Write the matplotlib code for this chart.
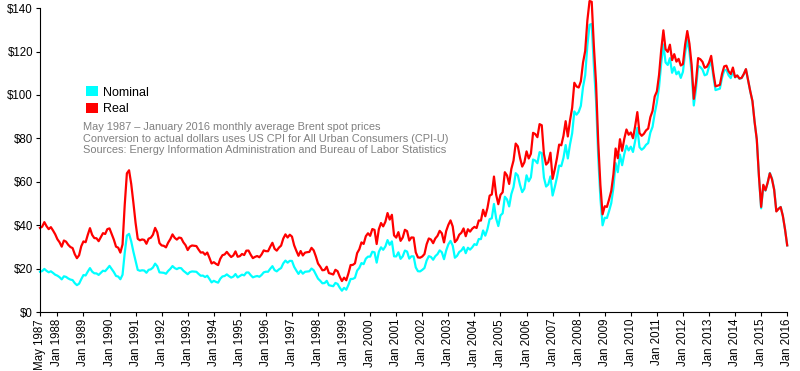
import numpy as np
import matplotlib
matplotlib.use("Agg")
from matplotlib import pyplot as plt
from matplotlib.patches import Patch

plt.rcParams['font.family'] = ['Liberation Sans', 'DejaVu Sans']

# Brent monthly average, nominal dollars (May 1987 - Jan 2016)
nominal = [
    18.58, 18.86, 19.86, 18.98, 18.31, 18.76, 18.01, 17.18,  # 1987
    16.75, 16.05, 15.03, 16.45, 16.18, 15.45, 14.95, 14.71, 13.31, 12.38, 13.06, 15.13,  # 1988
    17.03, 16.84, 18.63, 20.23, 18.62, 17.84, 17.79, 17.09, 18.06, 19.02, 18.82, 19.99,  # 1989
    21.25, 19.81, 18.39, 16.61, 16.35, 15.10, 17.17, 27.17, 35.24, 36.02, 32.54, 27.75,  # 1990
    23.63, 19.40, 19.00, 19.23, 19.10, 18.08, 19.43, 19.67, 20.48, 22.29, 21.08, 18.27,  # 1991
    18.16, 18.06, 17.63, 18.93, 19.89, 21.17, 20.24, 19.76, 20.31, 20.18, 19.02, 18.24,  # 1992
    17.42, 18.38, 18.70, 18.61, 18.54, 17.56, 16.71, 16.79, 16.11, 16.72, 15.24, 13.64,  # 1993
    14.37, 13.89, 13.52, 15.34, 16.39, 16.59, 17.34, 16.54, 15.86, 16.30, 17.48, 15.94,  # 1994
    16.56, 17.21, 16.89, 18.19, 18.22, 16.99, 15.98, 16.35, 16.60, 16.23, 17.06, 18.27,  # 1995
    18.57, 18.55, 19.94, 21.12, 19.30, 18.73, 19.64, 20.26, 22.41, 23.69, 22.73, 23.58,  # 1996
    23.54, 20.84, 19.13, 17.56, 19.04, 17.65, 18.53, 18.67, 18.76, 20.03, 19.25, 17.35,  # 1997
    15.37, 14.40, 13.24, 13.33, 14.36, 12.34, 12.14, 11.89, 13.39, 12.93, 11.19, 9.82,  # 1998
    11.13, 10.28, 12.53, 15.21, 15.26, 15.77, 19.08, 20.32, 22.55, 22.06, 24.56, 25.52,  # 1999
    25.51, 27.78, 27.49, 22.76, 27.74, 29.80, 28.68, 30.20, 33.14, 30.96, 32.55, 25.66,  # 2000
    25.62, 27.50, 24.50, 25.66, 28.31, 27.85, 24.61, 25.68, 25.62, 20.54, 18.80, 18.71,  # 2001
    19.42, 20.28, 23.70, 25.73, 25.35, 24.08, 25.74, 26.65, 28.40, 27.54, 24.34, 28.33,  # 2002
    31.18, 32.77, 30.61, 25.00, 25.86, 27.65, 28.35, 29.89, 27.11, 29.61, 28.75, 29.81,  # 2003
    31.28, 30.86, 33.63, 33.59, 37.57, 35.18, 38.22, 42.74, 43.20, 49.78, 43.11, 39.60,  # 2004
    44.51, 45.48, 53.10, 51.88, 48.65, 54.35, 57.52, 63.98, 62.91, 58.54, 55.24, 56.86,  # 2005
    62.99, 60.21, 62.06, 70.26, 69.78, 68.56, 73.67, 73.23, 61.96, 57.81, 58.76, 62.47,  # 2006
    53.68, 57.56, 62.05, 67.49, 67.21, 71.05, 76.93, 70.76, 77.17, 82.34, 92.41, 90.93,  # 2007
    92.18, 94.99, 103.64, 109.07, 122.80, 132.32, 132.72, 113.24, 97.23, 71.58, 52.45, 39.95,  # 2008
    43.44, 43.32, 46.54, 50.18, 57.30, 68.61, 64.44, 72.51, 67.65, 72.77, 76.66, 74.46,  # 2009
    76.17, 73.75, 78.83, 84.82, 75.95, 74.76, 75.58, 77.04, 77.84, 82.67, 85.28, 91.45,  # 2010
    96.52, 103.72, 114.64, 123.26, 114.99, 113.83, 116.97, 110.22, 112.83, 109.55, 110.77, 107.87,  # 2011
    110.69, 119.33, 125.45, 119.75, 110.34, 95.16, 102.62, 113.36, 112.86, 111.71, 109.06, 109.49,  # 2012
    112.96, 116.05, 108.47, 102.25, 102.56, 102.92, 107.93, 111.28, 111.60, 109.08, 107.79, 110.76,  # 2013
    108.12, 108.90, 107.48, 107.76, 109.54, 111.80, 106.77, 101.61, 97.09, 87.43, 79.44, 62.34,  # 2014
    47.76, 58.10, 55.89, 59.52, 64.08, 61.48, 56.56, 46.52, 47.62, 48.43, 44.27, 38.01,  # 2015
    30.70,  # 2016
]

# Same prices in January 2016 dollars (CPI-U)
real = [
    38.74, 39.32, 41.41, 39.57, 38.18, 39.11, 37.55, 35.82,  # 1987
    33.55, 32.15, 30.11, 32.95, 32.41, 30.95, 29.94, 29.46, 26.66, 24.80, 26.16, 30.31,  # 1988
    32.53, 32.16, 35.58, 38.64, 35.56, 34.07, 33.98, 32.64, 34.49, 36.33, 35.95, 38.18,  # 1989
    38.53, 35.92, 33.34, 30.11, 29.64, 27.38, 31.13, 49.26, 63.89, 65.30, 58.99, 50.31,  # 1990
    41.09, 33.74, 33.04, 33.44, 33.21, 31.44, 33.79, 34.21, 35.61, 38.76, 36.66, 31.77,  # 1991
    30.67, 30.50, 29.78, 31.97, 33.59, 35.76, 34.19, 33.37, 34.30, 34.08, 32.12, 30.81,  # 1992
    28.55, 30.12, 30.65, 30.50, 30.39, 28.78, 27.39, 27.52, 26.40, 27.40, 24.98, 22.36,  # 1993
    22.96, 22.20, 21.60, 24.51, 26.19, 26.51, 27.71, 26.43, 25.34, 26.05, 27.93, 25.47,  # 1994
    25.73, 26.74, 26.25, 28.27, 28.31, 26.40, 24.83, 25.41, 25.80, 25.22, 26.51, 28.39,  # 1995
    28.04, 28.01, 30.11, 31.89, 29.14, 28.28, 29.66, 30.59, 33.84, 35.77, 34.32, 35.61,  # 1996
    34.75, 30.76, 28.24, 25.92, 28.10, 26.05, 27.35, 27.56, 27.69, 29.56, 28.41, 25.61,  # 1997
    22.33, 20.92, 19.24, 19.37, 20.87, 17.93, 17.64, 17.28, 19.46, 18.79, 16.26, 14.27,  # 1998
    15.83, 14.62, 17.82, 21.63, 21.70, 22.43, 27.13, 28.90, 32.07, 31.37, 34.92, 36.29,  # 1999
    35.10, 38.23, 37.83, 31.32, 38.17, 41.00, 39.46, 41.56, 45.60, 42.60, 44.79, 35.31,  # 2000
    34.28, 36.80, 32.78, 34.33, 37.88, 37.26, 32.93, 34.36, 34.28, 27.48, 25.15, 25.03,  # 2001
    25.58, 26.71, 31.21, 33.89, 33.39, 31.71, 33.90, 35.10, 37.40, 36.27, 32.06, 37.31,  # 2002
    40.16, 42.21, 39.43, 32.20, 33.31, 35.61, 36.51, 38.50, 34.92, 38.14, 37.03, 38.40,  # 2003
    39.23, 38.70, 42.17, 42.12, 47.11, 44.12, 47.93, 53.60, 54.17, 62.42, 54.06, 49.66,  # 2004
    53.99, 55.17, 64.41, 62.93, 59.01, 65.93, 69.77, 77.61, 76.31, 71.01, 67.01, 68.97,  # 2005
    74.01, 70.75, 72.92, 82.56, 81.99, 80.56, 86.56, 86.05, 72.80, 67.93, 69.04, 73.40,  # 2006
    61.36, 65.79, 70.92, 77.14, 76.82, 81.21, 87.93, 80.88, 88.20, 94.11, 105.62, 103.93,  # 2007
    103.43, 106.29, 114.94, 120.30, 134.34, 143.30, 142.94, 122.41, 105.30, 78.31, 58.48, 45.02,  # 2008
    48.74, 48.43, 51.89, 55.80, 63.49, 75.33, 70.88, 79.62, 74.28, 79.83, 84.10, 81.68,  # 2009
    82.72, 80.09, 85.61, 92.11, 82.48, 81.19, 82.08, 83.67, 84.53, 89.78, 92.61, 99.31,  # 2010
    101.64, 109.22, 120.72, 129.79, 121.08, 119.86, 123.17, 116.06, 118.81, 115.36, 116.64, 113.59,  # 2011
    114.23, 123.15, 129.46, 123.58, 113.87, 98.21, 105.90, 116.99, 116.47, 115.28, 112.55, 112.99,  # 2012
    114.88, 118.02, 110.31, 103.99, 104.30, 104.67, 109.76, 113.17, 113.50, 110.93, 109.62, 112.64,  # 2013
    108.23, 109.01, 107.59, 107.87, 109.65, 111.91, 106.88, 101.71, 97.19, 87.52, 79.52, 62.40,  # 2014
    48.43, 58.62, 56.11, 59.58, 63.89, 61.17, 56.28, 46.33, 47.48, 48.33, 44.27, 38.09,  # 2015
    30.70,  # 2016
]

tick_labels = ["May 1987"] + ["Jan %d" % y for y in range(1988, 2017)]
y_ticks = [0, 20, 40, 60, 80, 100, 120, 140]
notes = [
    "May 1987 \u2013 January 2016 monthly average Brent spot prices",
    "Conversion to actual dollars uses US CPI for All Urban Consumers (CPI-U)",
    "Sources: Energy Information Administration and Bureau of Labor Statistics",
]

months = np.arange(len(nominal))
tick_pos = [0] + [8 + 12 * k for k in range(len(tick_labels) - 1)]

fig = plt.figure(figsize=(8, 3.71), dpi=100)
ax = fig.add_axes([0.05, 0.159, 0.934, 0.819])

ax.plot(months, nominal, color="#00ffff", lw=1.6, clip_on=False)
ax.plot(months, real, color="#ff0000", lw=1.6, clip_on=False)

ax.set_xlim(0, len(nominal) - 1)
ax.set_ylim(0, 140)
ax.set_yticks(y_ticks)
ax.set_yticklabels(["$%d" % v for v in y_ticks], fontsize=8.3)
ax.set_xticks(tick_pos)
ax.set_xticklabels(tick_labels, rotation=90, fontsize=8.3)
ax.tick_params(axis="both", length=3, width=0.8, pad=2)

for s in ["top", "right"]:
    ax.spines[s].set_visible(False)
for s in ["left", "bottom"]:
    ax.spines[s].set_linewidth(0.8)

handles = [Patch(facecolor="#00ffff", edgecolor="none", label="Nominal"),
           Patch(facecolor="#ff0000", edgecolor="none", label="Real")]
fig.legend(handles=handles, loc="upper left", bbox_to_anchor=(0.1, 0.785),
           frameon=False, fontsize=9, handlelength=0.9, handleheight=0.9,
           handletextpad=0.4, borderpad=0, labelspacing=0.35)

for i, line in enumerate(notes):
    fig.text(0.104, 1 - (127 + 11.7 * i) / 371, line, fontsize=7.9,
             color="#808080", va="center", ha="left")

fig.savefig("out.png", dpi=100)
